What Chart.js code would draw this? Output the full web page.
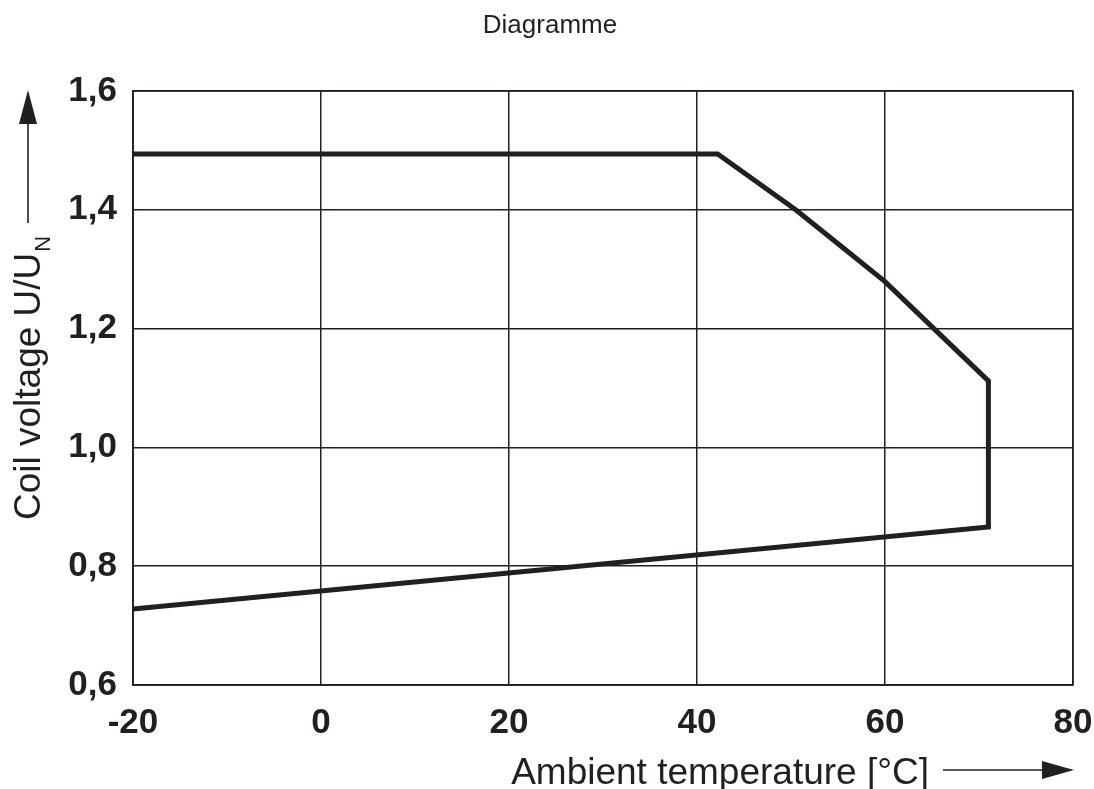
<!DOCTYPE html>
<html>
<head>
<meta charset="utf-8">
<title>Diagramme</title>
<script src="https://cdn.jsdelivr.net/npm/chart.js@4.4.1/dist/chart.umd.min.js"></script>
<style>
    html, body { margin: 0; padding: 0; background: #fff; }
    #wrap { width: 1094px; height: 789px; }
</style>
</head>
<body>
<div id="wrap"><canvas id="coilChart" width="1094" height="789"></canvas></div>
<script>
// Operating range: upper limit, then down the right edge, then lower limit
const temps    = [-20, 42.2, 50.5, 55.3, 60.0, 65.2, 71.0, 71.0, -20];
const voltages = [1.494, 1.494, 1.40, 1.339, 1.279, 1.20, 1.112, 0.866, 0.728];

const xTicks = [-20, 0, 20, 40, 60, 80];
const yTicks = [0.6, 0.8, 1.0, 1.2, 1.4, 1.6];

const chartTitle = 'Diagramme';
const xTitle = 'Ambient temperature [°C]';
const yTitle = 'Coil voltage U/U';
const ySub = 'N';

const INK = '#231f20';
const FONT = '"Liberation Sans", Arial, Helvetica, sans-serif';

// Title, axis labels and their arrows
const labelsPlugin = {
    id: 'labels',
    afterDraw(chart) {
        const ctx = chart.ctx;
        const area = chart.chartArea;
        ctx.save();
        ctx.fillStyle = INK;
        ctx.strokeStyle = INK;

        // title
        ctx.font = '26px ' + FONT;
        ctx.textAlign = 'center';
        ctx.textBaseline = 'alphabetic';
        ctx.fillText(chartTitle, 550, 33);

        // x axis label + arrow
        ctx.font = '37px ' + FONT;
        ctx.textAlign = 'right';
        ctx.fillText(xTitle, 929, 784);
        ctx.lineWidth = 1.6;
        ctx.beginPath();
        ctx.moveTo(943, 770);
        ctx.lineTo(1045, 770);
        ctx.stroke();
        ctx.beginPath();
        ctx.moveTo(area.right + 1, 770);
        ctx.lineTo(1042, 761);
        ctx.lineTo(1042, 779);
        ctx.closePath();
        ctx.fill();

        // y axis label (rotated) with subscript + arrow
        ctx.save();
        ctx.translate(40, 520);
        ctx.rotate(-Math.PI / 2);
        ctx.textAlign = 'left';
        ctx.font = '37px ' + FONT;
        ctx.fillText(yTitle, 0, 0);
        const w = ctx.measureText(yTitle).width;
        ctx.font = '22px ' + FONT;
        ctx.fillText(ySub, w + 1, 10);
        ctx.restore();

        ctx.beginPath();
        ctx.moveTo(28, 223);
        ctx.lineTo(28, 120);
        ctx.stroke();
        ctx.beginPath();
        ctx.moveTo(28, area.top - 1);
        ctx.lineTo(19, 124);
        ctx.lineTo(37, 124);
        ctx.closePath();
        ctx.fill();

        ctx.restore();
    }
};

const ctx = document.getElementById('coilChart').getContext('2d');
new Chart(ctx, {
    type: 'scatter',
    data: {
        datasets: [{
            data: temps.map((t, i) => ({ x: t, y: voltages[i] })),
            showLine: true,
            borderColor: INK,
            borderWidth: 5,
            borderJoinStyle: 'miter',
            pointRadius: 0,
            fill: false,
            tension: 0
        }]
    },
    options: {
        responsive: false,
        animation: false,
        devicePixelRatio: 1,
        layout: { padding: { top: 91, right: 21, left: 0, bottom: 0 } },
        plugins: {
            legend: { display: false },
            title: { display: false },
            tooltip: { enabled: false }
        },
        scales: {
            x: {
                type: 'linear',
                min: -20,
                max: 80,
                afterFit: s => { s.height = 104; s.paddingLeft = 0; s.paddingRight = 0; },
                afterBuildTicks: s => { s.ticks = xTicks.map(v => ({ value: v })); },
                grid: { color: INK, lineWidth: 1.5, drawTicks: false },
                border: { color: INK, width: 1.5 },
                ticks: {
                    color: INK,
                    padding: 17,
                    maxRotation: 0,
                    autoSkip: false,
                    font: { family: FONT, size: 35, weight: 'bold' },
                    callback: v => String(v)
                }
            },
            y: {
                type: 'linear',
                min: 0.6,
                max: 1.6,
                afterFit: s => { s.width = 133; s.paddingTop = 0; s.paddingBottom = 0; },
                afterBuildTicks: s => { s.ticks = yTicks.map(v => ({ value: v })); },
                grid: { color: INK, lineWidth: 1.5, drawTicks: false },
                border: { color: INK, width: 1.5 },
                ticks: {
                    color: INK,
                    padding: 16,
                    autoSkip: false,
                    font: { family: FONT, size: 35, weight: 'bold' },
                    callback: v => v.toFixed(1).replace('.', ',')
                }
            }
        }
    },
    plugins: [labelsPlugin, {
        // right and top frame lines of the plot
        id: 'frame',
        beforeDatasetsDraw(chart) {
            const a = chart.chartArea;
            const c = chart.ctx;
            c.save();
            c.strokeStyle = INK;
            c.lineWidth = 1.5;
            c.strokeRect(a.left, a.top, a.right - a.left, a.bottom - a.top);
            c.restore();
        }
    }]
});
</script>
</body>
</html>
